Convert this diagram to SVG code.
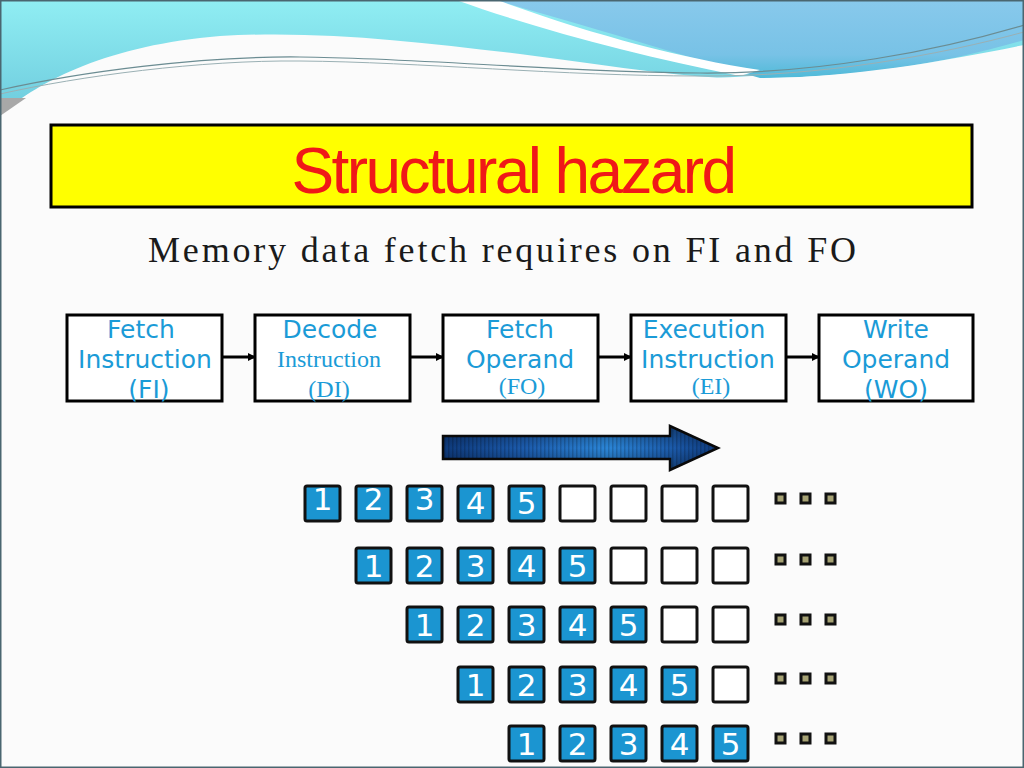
<svg xmlns="http://www.w3.org/2000/svg" width="1024" height="768" viewBox="0 0 1024 768">
<defs>
<linearGradient id="cyan" x1="0" y1="0" x2="0" y2="1"><stop offset="0" stop-color="#90eef3"/><stop offset="1" stop-color="#6cc9dc"/></linearGradient>
<linearGradient id="blue" x1="0" y1="0" x2="0" y2="1"><stop offset="0" stop-color="#88c9ec"/><stop offset="0.7" stop-color="#78c2e6"/><stop offset="1" stop-color="#4fbad8"/></linearGradient>
<linearGradient id="arrowg" x1="0" y1="0" x2="1" y2="0"><stop offset="0" stop-color="#0e3a7c"/><stop offset="0.3" stop-color="#1c5cae"/><stop offset="0.6" stop-color="#2b86d8"/><stop offset="0.85" stop-color="#1a58a8"/><stop offset="1" stop-color="#0e3a7c"/></linearGradient>
<linearGradient id="shade" x1="0" y1="0" x2="0" y2="1"><stop offset="0" stop-color="#000" stop-opacity="0.35"/><stop offset="0.5" stop-color="#000" stop-opacity="0"/><stop offset="1" stop-color="#000" stop-opacity="0.35"/></linearGradient>
<pattern id="stripes" width="4" height="10" patternUnits="userSpaceOnUse"><rect width="1.5" height="10" fill="#000" opacity="0.18"/></pattern>
<marker id="ah" markerWidth="8" markerHeight="8" refX="7" refY="4" orient="auto" markerUnits="userSpaceOnUse"><path d="M0,0 L8,4 L0,8 Z" fill="#000"/></marker>
<style>
.stage{fill:#fff;stroke:#000;stroke-width:3}
.sl{font-family:"DejaVu Sans",Verdana,sans-serif;font-size:25px;fill:#1b9bd7;text-anchor:middle}
.sr{font-family:"Liberation Serif","Times New Roman",serif;fill:#1b9bd7;text-anchor:middle}
.conn{stroke:#000;stroke-width:3;fill:none}
.sq{fill:#1b95d1;stroke:#111;stroke-width:3}
.em{fill:#fff;stroke:#111;stroke-width:3}
.num{font-family:"DejaVu Sans",Verdana,sans-serif;font-size:31px;fill:#fff;text-anchor:middle}
.dot{fill:#a6a274;stroke:#111;stroke-width:3}
</style>
</defs>
<rect width="1024" height="768" fill="#fbfbfb"/>
<!-- decorative header -->
<path d="M0,0 H1024 V60 L0,120 Z" fill="url(#cyan)"/>
<path d="M495,0 H1024 V40 C950,62 860,78 760,78 C700,60 600,30 495,0 Z" fill="url(#blue)"/>
<path d="M456,0 L497,0 C590,34 680,58 760,70 L740,76 C640,56 540,30 456,0 Z" fill="#fff"/>
<path d="M0,115 C40,80 110,45 220,36 C320,30 420,42 520,54 C600,64 680,78 740,78 C840,80 940,62 1024,45 V768 H0 Z" fill="#fbfbfb"/>
<path d="M0,98 L26,98 L0,116 Z" fill="#a8a8a8"/>
<path d="M0,90 C80,72 200,56 300,57 C420,58 560,72 700,73 C820,74 940,50 1024,25" fill="none" stroke="#6b8c92" stroke-width="1.2"/>
<path d="M0,94 C80,76 200,60 300,61 C420,62 560,76 700,76 C820,77 940,55 1024,32" fill="none" stroke="#9ab0b4" stroke-width="1"/>
<rect x="0.75" y="0.75" width="1022.5" height="766.5" fill="none" stroke="#4a6670" stroke-width="1.5"/>
<!-- title -->
<g id="title">
<rect x="51" y="125" width="921" height="82" fill="#ffff00" stroke="#000" stroke-width="3"/>
<text x="513" y="193" font-family="Liberation Sans,Arial,sans-serif" font-size="64" fill="#f01818" text-anchor="middle" letter-spacing="-2.6">Structural hazard</text>
</g>
<text id="subtitle" x="148" y="262" font-family="Liberation Serif,Times New Roman,serif" font-size="36" fill="#1a1a1a" textLength="708" lengthAdjust="spacing">Memory data fetch requires on FI and FO</text>
<!-- connectors -->
<g id="connectors">
<line class="conn" x1="223" y1="357" x2="255" y2="357" marker-end="url(#ah)"/>
<line class="conn" x1="411" y1="357" x2="443" y2="357" marker-end="url(#ah)"/>
<line class="conn" x1="599" y1="357" x2="631" y2="357" marker-end="url(#ah)"/>
<line class="conn" x1="786" y1="357" x2="819" y2="357" marker-end="url(#ah)"/>
</g>
<g id="FI">
<rect class="stage" x="67" y="315" width="155" height="86"/>
<text class="sl" x="141" y="338">Fetch</text>
<text class="sl" x="145" y="368">Instruction</text>
<text class="sl" x="149" y="398">(FI)</text>
</g>
<g id="DI">
<rect class="stage" x="255" y="315" width="155" height="86"/>
<text class="sl" x="330" y="338">Decode</text>
<text class="sr" x="329" y="367" font-size="24">Instruction</text>
<text class="sr" x="329" y="397" font-size="24">(DI)</text>
</g>
<g id="FO">
<rect class="stage" x="443" y="315" width="155" height="86"/>
<text class="sl" x="520" y="338">Fetch</text>
<text class="sl" x="520" y="368">Operand</text>
<text class="sr" x="522" y="394" font-size="24">(FO)</text>
</g>
<g id="EI">
<rect class="stage" x="631" y="315" width="155" height="86"/>
<text class="sl" x="704" y="338">Execution</text>
<text class="sl" x="708" y="368">Instruction</text>
<text class="sr" x="711" y="394" font-size="24">(EI)</text>
</g>
<g id="WO">
<rect class="stage" x="819" y="315" width="154" height="86"/>
<text class="sl" x="896" y="338">Write</text>
<text class="sl" x="896" y="368">Operand</text>
<text class="sl" x="896" y="398">(WO)</text>
</g>
<!-- big arrow -->
<g id="time-arrow">
<path d="M443,436 L670,436 L670,426 L718,448 L670,470 L670,459 L443,459 Z" fill="url(#arrowg)"/>
<path d="M443,436 L670,436 L670,426 L718,448 L670,470 L670,459 L443,459 Z" fill="url(#stripes)"/>
<path d="M443,436 L670,436 L670,426 L718,448 L670,470 L670,459 L443,459 Z" fill="url(#shade)" stroke="#0a0a0a" stroke-width="2.5"/>
</g>
<!-- row 1 -->
<g id="row1">
<rect class="sq" x="305" y="486" width="35" height="35" rx="2"/><text class="num" x="322.5" y="510">1</text>
<rect class="sq" x="356" y="486" width="35" height="35" rx="2"/><text class="num" x="373.5" y="510">2</text>
<rect class="sq" x="407" y="486" width="35" height="35" rx="2"/><text class="num" x="424.5" y="510">3</text>
<rect class="sq" x="458" y="486" width="35" height="35" rx="2"/><text class="num" x="475.5" y="514">4</text>
<rect class="sq" x="509" y="486" width="35" height="35" rx="2"/><text class="num" x="526.5" y="514">5</text>
<rect class="em" x="560" y="486" width="35" height="35" rx="2"/>
<rect class="em" x="611" y="486" width="35" height="35" rx="2"/>
<rect class="em" x="662" y="486" width="35" height="35" rx="2"/>
<rect class="em" x="713" y="486" width="35" height="35" rx="2"/>
<rect class="dot" x="776" y="494" width="9" height="9"/><rect class="dot" x="801" y="494" width="9" height="9"/><rect class="dot" x="826" y="494" width="9" height="9"/>
</g>
<g id="row2">
<rect class="sq" x="356" y="548" width="35" height="35" rx="2"/><text class="num" x="373.5" y="577">1</text>
<rect class="sq" x="407" y="548" width="35" height="35" rx="2"/><text class="num" x="424.5" y="577">2</text>
<rect class="sq" x="458" y="548" width="35" height="35" rx="2"/><text class="num" x="475.5" y="577">3</text>
<rect class="sq" x="509" y="548" width="35" height="35" rx="2"/><text class="num" x="526.5" y="577">4</text>
<rect class="sq" x="560" y="548" width="35" height="35" rx="2"/><text class="num" x="577.5" y="577">5</text>
<rect class="em" x="611" y="548" width="35" height="35" rx="2"/>
<rect class="em" x="662" y="548" width="35" height="35" rx="2"/>
<rect class="em" x="713" y="548" width="35" height="35" rx="2"/>
<rect class="dot" x="776" y="555" width="9" height="9"/><rect class="dot" x="801" y="555" width="9" height="9"/><rect class="dot" x="826" y="555" width="9" height="9"/>
</g>
<g id="row3">
<rect class="sq" x="407" y="607" width="35" height="35" rx="2"/><text class="num" x="424.5" y="636">1</text>
<rect class="sq" x="458" y="607" width="35" height="35" rx="2"/><text class="num" x="475.5" y="636">2</text>
<rect class="sq" x="509" y="607" width="35" height="35" rx="2"/><text class="num" x="526.5" y="636">3</text>
<rect class="sq" x="560" y="607" width="35" height="35" rx="2"/><text class="num" x="577.5" y="636">4</text>
<rect class="sq" x="611" y="607" width="35" height="35" rx="2"/><text class="num" x="628.5" y="636">5</text>
<rect class="em" x="662" y="607" width="35" height="35" rx="2"/>
<rect class="em" x="713" y="607" width="35" height="35" rx="2"/>
<rect class="dot" x="776" y="615" width="9" height="9"/><rect class="dot" x="801" y="615" width="9" height="9"/><rect class="dot" x="826" y="615" width="9" height="9"/>
</g>
<g id="row4">
<rect class="sq" x="458" y="667" width="35" height="35" rx="2"/><text class="num" x="475.5" y="696">1</text>
<rect class="sq" x="509" y="667" width="35" height="35" rx="2"/><text class="num" x="526.5" y="696">2</text>
<rect class="sq" x="560" y="667" width="35" height="35" rx="2"/><text class="num" x="577.5" y="696">3</text>
<rect class="sq" x="611" y="667" width="35" height="35" rx="2"/><text class="num" x="628.5" y="696">4</text>
<rect class="sq" x="662" y="667" width="35" height="35" rx="2"/><text class="num" x="679.5" y="696">5</text>
<rect class="em" x="713" y="667" width="35" height="35" rx="2"/>
<rect class="dot" x="776" y="674" width="9" height="9"/><rect class="dot" x="801" y="674" width="9" height="9"/><rect class="dot" x="826" y="674" width="9" height="9"/>
</g>
<g id="row5">
<rect class="sq" x="509" y="726" width="35" height="35" rx="2"/><text class="num" x="526.5" y="755">1</text>
<rect class="sq" x="560" y="726" width="35" height="35" rx="2"/><text class="num" x="577.5" y="755">2</text>
<rect class="sq" x="611" y="726" width="35" height="35" rx="2"/><text class="num" x="628.5" y="755">3</text>
<rect class="sq" x="662" y="726" width="35" height="35" rx="2"/><text class="num" x="679.5" y="755">4</text>
<rect class="sq" x="713" y="726" width="35" height="35" rx="2"/><text class="num" x="730.5" y="755">5</text>
<rect class="dot" x="776" y="734" width="9" height="9"/><rect class="dot" x="801" y="734" width="9" height="9"/><rect class="dot" x="826" y="734" width="9" height="9"/>
</g>
</svg>
